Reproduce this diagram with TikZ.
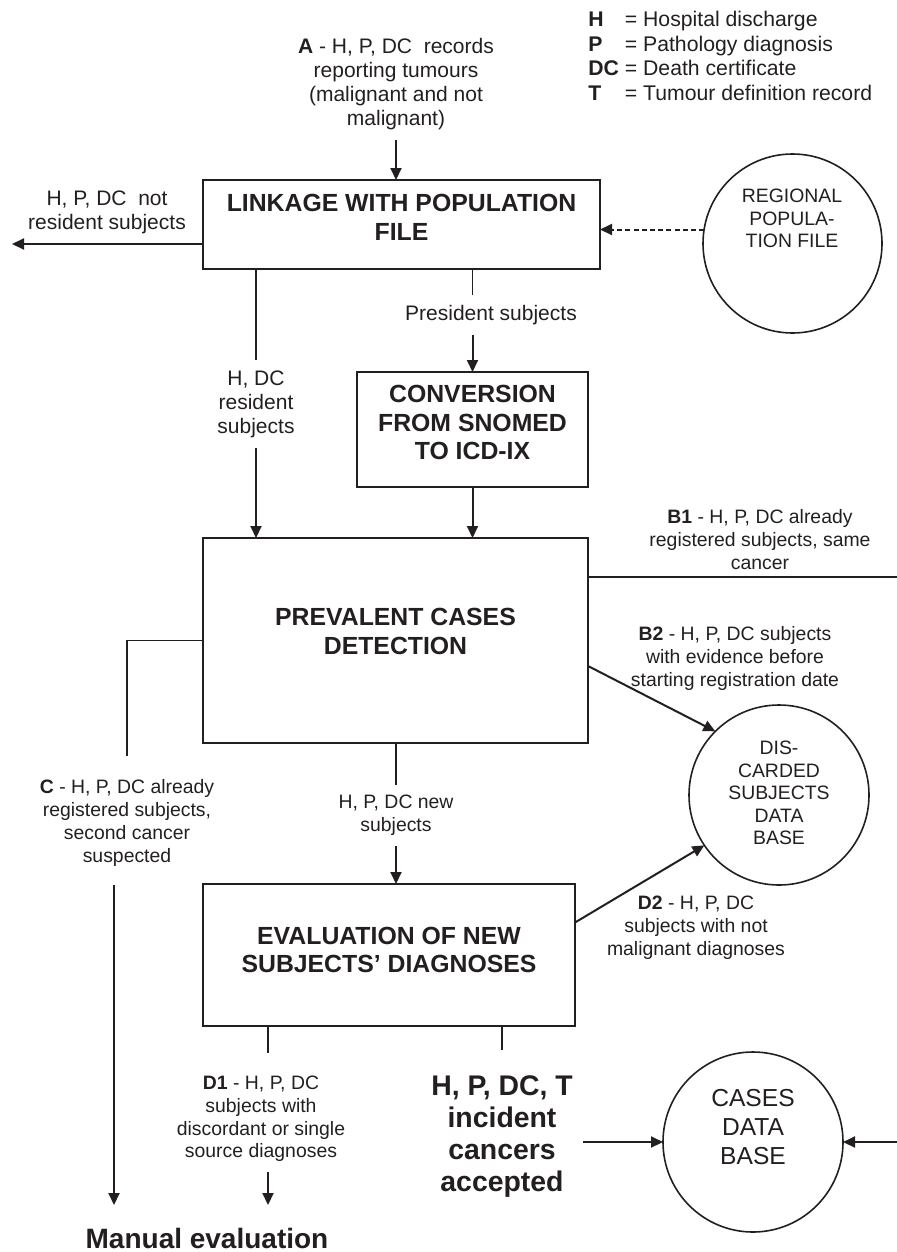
\documentclass[tikz,border=0pt]{standalone}
\usepackage{fontspec}
\setmainfont{Liberation Sans}
\usetikzlibrary{arrows.meta}
\definecolor{ink}{RGB}{35,31,32}

\begin{document}
\begin{tikzpicture}[x=0.5pt,y=-0.5pt,color=ink,
    box/.style={draw,line width=1.1pt,inner sep=0,outer sep=0},
    ttl/.style={font=\bfseries\fontsize{12.4}{14.25}\selectfont,align=center,anchor=north,inner sep=0},
    lbl/.style={font=\fontsize{10.5}{12}\selectfont,align=center,anchor=north,inner sep=5pt},
    slbl/.style={font=\fontsize{9.7}{11.4}\selectfont,align=center,anchor=north,inner sep=5pt},
    db/.style={circle,draw,line width=0.8pt,minimum size=90pt,inner sep=0,outer sep=0},
    dbt/.style={font=\fontsize{9.7}{11.25}\selectfont,align=center,anchor=north,inner sep=0},
    arr/.style={-{Triangle[length=6pt,width=5.5pt]},line width=1pt},
    lnk/.style={line width=0.6pt}]
      \useasboundingbox (0,0) rectangle (897,1252);

      \node[anchor=base west,inner sep=0,font=\fontsize{10.6}{12.25}\selectfont] (key) at (588,27)
        {\begin{tabular}[t]{@{}l@{\ }l@{}}
          \textbf{H} & = Hospital discharge\\
          \textbf{P} & = Pathology diagnosis\\
          \textbf{DC} & = Death certificate\\
          \textbf{T} & = Tumour definition record
        \end{tabular}};

      \node[lbl] (aLbl) at (396,28){\textbf{A} - H, P, DC~ records\\reporting tumours\\(malignant and not\\malignant)};

      \node[box,minimum width=198.5pt,minimum height=44.5pt] (link) at (401.5,224.5){};
        \node[ttl] (linkT) at (401.5,194){LINKAGE WITH POPULATION\\FILE};
      \node[lbl] (notRes) at (107,180){H, P, DC~ not\\resident subjects};
      \coordinate (outL) at (12,244);

      \node[db,minimum size=89.5pt] (reg) at (792.5,243.5){};
        \node[dbt] (regT) at (792,189){REGIONAL\\POPULA-\\TION FILE};

      \node[lbl] (presLbl) at (491,295){President subjects};
      \node[lbl] (hdcLbl) at (256,360){H, DC\\resident\\subjects};

      \node[box,minimum width=115.5pt,minimum height=57.5pt] (conv) at (472.5,429.5){};
        \node[ttl] (convT) at (472.5,385){CONVERSION\\FROM SNOMED\\TO ICD-IX};

      \node[box,minimum width=192.5pt,minimum height=102.5pt] (prev) at (395.5,640.5){};
        \node[ttl] (prevT) at (395.5,608){PREVALENT CASES\\DETECTION};

      \node[slbl] (b1Lbl) at (760,499){\textbf{B1} - H, P, DC already\\registered subjects, same\\cancer};
      \coordinate (b1End) at (897,577);
      \node[slbl] (b2Lbl) at (735,616){\textbf{B2} - H, P, DC subjects\\with evidence before\\starting registration date};

      \node[db] (dis) at (779,795){};
        \node[dbt] (disT) at (779,741){DIS-\\CARDED\\SUBJECTS\\DATA\\BASE};

      \node[slbl] (cLbl) at (127,769.5){\textbf{C} - H, P, DC already\\registered subjects,\\second cancer\\suspected};
      \node[slbl] (newLbl) at (396,785){H, P, DC new\\subjects};

      \node[box,minimum width=186pt,minimum height=71pt] (eval) at (389,955){};
        \node[ttl] (evalT) at (389,926.5){EVALUATION OF NEW\\SUBJECTS’ DIAGNOSES};
      \node[slbl] (d2Lbl) at (696,886){\textbf{D2} - H, P, DC\\subjects with not\\malignant diagnoses};

      \node[slbl] (d1Lbl) at (261,1065.5){\textbf{D1} - H, P, DC\\subjects with\\discordant or single\\source diagnoses};
      \node[font=\bfseries\fontsize{14.2}{16}\selectfont,align=center,anchor=north,inner sep=5pt] (acc) at (502,1065.7){H, P, DC, T\\incident\\cancers\\accepted};

      \node[db] (cases) at (753,1142){};
        \node[dbt,font=\fontsize{12.3}{14.5}\selectfont] (casesT) at (753,1089){CASES\\DATA\\BASE};
      \coordinate (inR) at (897,1142);

      \node[font=\bfseries\fontsize{14}{16}\selectfont,anchor=base,inner sep=0] (manual) at (207,1248){Manual evaluation};
      \coordinate (cEnd) at (114,1205);
      \coordinate (d1End) at (268,1205);

      \draw[arr] (aLbl.south) -- (aLbl.south |- link.north);
      \draw[arr] (link.west |- outL) -- (outL);
      \draw[arr,dashed,dash pattern=on 2.5pt off 1.6pt] (reg.171) -- (reg.171 -| link.east);

      \draw[lnk] (link.south -| hdcLbl) -- (hdcLbl.north);
      \draw[arr] (hdcLbl.south) -- (hdcLbl.south |- prev.north);
      \draw[lnk] (link.south -| conv) -- (presLbl.north -| conv);
      \draw[arr] (presLbl.south -| conv) -- (conv.north);
      \draw[arr] (conv.south) -- (conv.south |- prev.north);

      \draw[lnk] (prev.east |- b1End) -- (b1End);
      \draw[arr] ([yshift=-12.75pt]prev.east) -- (dis.135);
      \draw[lnk,shorten >=6.75pt] (prev.west) -| (cLbl.north);
      \draw[arr,shorten <=4pt] (cLbl.south -| cEnd) -- (cEnd);

      \draw[lnk] (newLbl.north |- prev.south) -- (newLbl.north);
      \draw[arr] (newLbl.south) -- (newLbl.south |- eval.north);
      \draw[arr] ([yshift=16.25pt]eval.east) -- (dis.214);

      \draw[lnk,shorten >=6.5pt] (eval.south -| d1End) -- (d1Lbl.north -| d1End);
      \draw[arr] (d1Lbl.south -| d1End) -- (d1End);
      \draw[lnk,shorten >=8pt] (eval.south -| acc) -- (acc.north);

      \draw[arr] (acc.east |- cases.west) -- (cases.west);
      \draw[arr] (inR) -- (cases.east);

    \end{tikzpicture}
\end{document}
